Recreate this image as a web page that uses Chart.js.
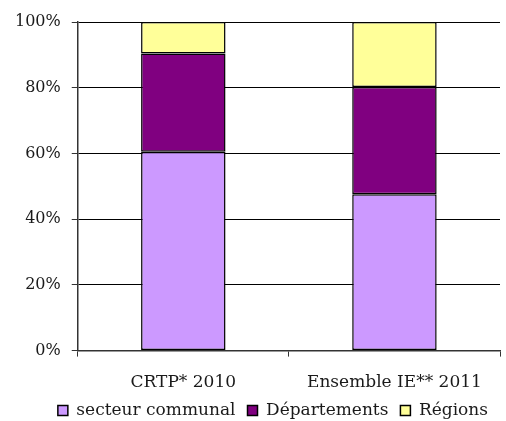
<!DOCTYPE html>
<html>
<head>
<meta charset="utf-8">
<script src="https://cdn.jsdelivr.net/npm/chart.js@4/dist/chart.umd.min.js"></script>
<style>
    html, body { margin: 0; padding: 0; background: #fff; }
    #wrap { width: 506px; height: 421px; position: relative; }
</style>
</head>
<body>
<div id="wrap"><canvas id="chart"></canvas></div>
<script>
    const categories = ['CRTP* 2010', 'Ensemble IE** 2011'];
    const secteurCommunal = [60.5, 47.6];
    const departements = [29.9, 32.6];
    const regions = [9.6, 19.8];
    const yTicks = [0, 20, 40, 60, 80, 100];

    const fontFamily = '"DejaVu Serif", "Liberation Serif", serif';
    const textColor = '#1a1a1a';
    const legendLift = 19;

    // the legend box is taller than needed; pull the plot down and lift the legend back up
    const liftLegend = {
        id: 'liftLegend',
        afterLayout(chart) {
            if (!chart.legend) {
                return;
            }
            chart.legend.top -= legendLift;
            chart.legend.bottom -= legendLift;
        }
    };

    new Chart(document.getElementById('chart'), {
        type: 'bar',
        data: {
            labels: categories,
            datasets: [
                { label: 'secteur communal', data: secteurCommunal, backgroundColor: '#CC99FF' },
                { label: 'Départements', data: departements, backgroundColor: '#800080' },
                { label: 'Régions', data: regions, backgroundColor: '#FFFF99' }
            ].map((d) => Object.assign(d, {
                borderColor: '#000',
                borderWidth: 1.5,
                borderSkipped: false,
                barPercentage: 0.8,
                categoryPercentage: 0.5
            }))
        },
        plugins: [liftLegend],
        options: {
            responsive: true,
            maintainAspectRatio: false,
            animation: false,
            layout: { padding: { left: 4, right: 6, top: 22, bottom: -8 - legendLift } },
            plugins: {
                tooltip: { enabled: false },
                legend: {
                    position: 'bottom',
                    align: 'end',
                    labels: {
                        color: textColor,
                        font: { family: fontFamily, size: 17 },
                        boxWidth: 10,
                        boxHeight: 10,
                        padding: 12
                    }
                }
            },
            scales: {
                x: {
                    stacked: true,
                    border: { color: '#333', width: 1.5 },
                    grid: {
                        offset: true,
                        drawOnChartArea: true,
                        color: (ctx) => (ctx.index === categories.length ? '#999' : 'rgba(0,0,0,0)'),
                        tickColor: '#333',
                        tickLength: 6
                    },
                    ticks: { color: textColor, font: { family: fontFamily, size: 17 }, padding: 16 }
                },
                y: {
                    stacked: true,
                    min: yTicks[0],
                    max: yTicks[yTicks.length - 1],
                    afterBuildTicks: (axis) => { axis.ticks = yTicks.map((v) => ({ value: v })); },
                    border: { color: '#333', width: 1.5 },
                    grid: { color: '#000', tickColor: '#333', tickLength: 6 },
                    ticks: {
                        color: textColor,
                        font: { family: fontFamily, size: 16 },
                        padding: 11,
                        callback: (v) => v + '%'
                    }
                }
            }
        }
    });
</script>
</body>
</html>
